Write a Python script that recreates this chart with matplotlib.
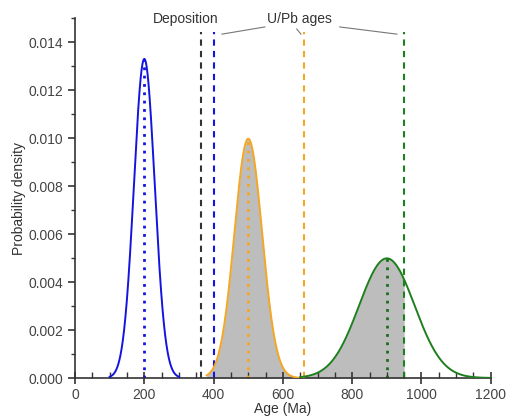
import numpy as np
import matplotlib
matplotlib.use("Agg")
import matplotlib.pyplot as plt
from matplotlib.ticker import MultipleLocator

plt.rcParams['font.family'] = ['Liberation Sans', 'DejaVu Sans']

# Data
means = [200, 500, 900]
sigmas = [30, 40, 80]
ranges = [(100, 300), (380, 660), (650, 1200)]
colors = ['#1414e0', '#f5a623', '#1d7f1d']
dot_colors = ['#1414e0', '#f5a623', '#1a6e1a']
fill_ranges = [None, (380, 660), (650, 950)]
deposition_age = 365
upb_ages = [400, 660, 950]
upb_colors = ['#1414e0', '#f5a623', '#1d7f1d']
xticks = [0, 200, 400, 600, 800, 1000, 1200]
yticks = [0.000, 0.002, 0.004, 0.006, 0.008, 0.010, 0.012, 0.014]

def pdf(x, m, s):
    return np.exp(-0.5 * ((x - m) / s) ** 2) / (s * np.sqrt(2 * np.pi))

fig = plt.figure(figsize=(5.07, 4.20), dpi=100)
ax = fig.add_axes([0.148, 0.10, 0.820, 0.857])

for m, s, (a, b), c, dc, fr in zip(means, sigmas, ranges, colors, dot_colors, fill_ranges):
    if fr is not None:
        xf = np.linspace(fr[0], fr[1], 400)
        ax.fill_between(xf, 0, pdf(xf, m, s), color='#bdbdbd', lw=0, zorder=1)
for m, s, (a, b), c, dc, fr in zip(means, sigmas, ranges, colors, dot_colors, fill_ranges):
    x = np.linspace(a, b, 500)
    ax.plot(x, pdf(x, m, s), color=c, lw=1.4, zorder=3)
    ax.plot([m, m], [0, pdf(m, m, s)], color=dc, lw=2, ls=(0, (1, 2)), zorder=2)

top = 0.01442
ax.plot([deposition_age, deposition_age], [0, top], color='#333333', lw=1.5,
        ls=(0, (3, 2.5)), zorder=2)
for a, c in zip(upb_ages, upb_colors):
    ax.plot([a, a], [0, top], color=c, lw=1.5, ls=(0, (3, 2.5)), zorder=2)

# annotations
ax.text(320, 0.01496, 'Deposition', ha='center', va='center', fontsize=10, color='#333333')
ax.text(649, 0.01496, 'U/Pb ages', ha='center', va='center', fontsize=10, color='#333333')
ln = dict(color='#777777', lw=0.8, clip_on=False)
ax.plot([424, 548], [0.01433, 0.01463], **ln)
ax.plot([640, 652], [0.01454, 0.01433], **ln)
ax.plot([764, 929], [0.01463, 0.01433], **ln)

ax.set_xlim(0, 1200)
ax.set_ylim(0, 0.015)
ax.set_xticks(xticks)
ax.set_yticks(yticks)
ax.set_yticklabels([f'{v:.3f}' for v in yticks])
ax.xaxis.set_minor_locator(MultipleLocator(50))
ax.yaxis.set_minor_locator(MultipleLocator(0.001))
for s in ['top', 'right']:
    ax.spines[s].set_visible(False)
for s in ['left', 'bottom']:
    ax.spines[s].set_color('#333333')
    ax.spines[s].set_linewidth(1.2)
ax.tick_params(axis='x', which='major', direction='inout', length=8, width=1.2,
               colors='#333333', labelsize=10, labelcolor='#444444')
ax.tick_params(axis='x', which='minor', direction='in', length=4, width=1, colors='#333333')
ax.tick_params(axis='y', which='major', direction='out', length=5, width=1.2,
               colors='#333333', labelsize=10, labelcolor='#444444')
ax.tick_params(axis='y', which='minor', direction='out', length=3, width=1, colors='#333333')
ax.set_xlabel('Age (Ma)', fontsize=10, color='#333333', labelpad=0)
ax.set_ylabel('Probability density', fontsize=10, color='#333333', labelpad=2)

fig.savefig('out.png', dpi=100)
